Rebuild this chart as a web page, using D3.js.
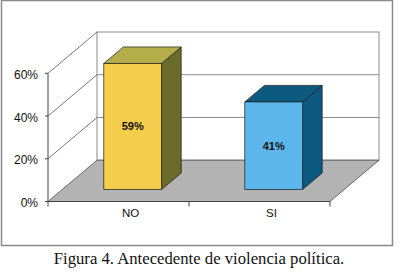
<!DOCTYPE html>
<html>
<head>
<meta charset="utf-8">
<script src="https://cdn.jsdelivr.net/npm/d3@7"></script>
<style>
  html, body { margin: 0; padding: 0; background: #fff; }
  svg { display: block; }
</style>
</head>
<body>
<svg id="chart" width="400" height="274"></svg>
<script>
// ---- data ----
const categories = ["NO", "SI"];
const values = [0.59, 0.41];
const valueLabels = ["59%", "41%"];
const tickValues = [0, 0.2, 0.4, 0.6];
const tickLabels = ["0%", "20%", "40%", "60%"];
const caption = "Figura 4. Antecedente de violencia política.";

const frontColors = ["#f4cd4c", "#5cb6ec"];
const topColors = ["#b4ae4a", "#0d5a80"];
const sideColors = ["#6b6b2b", "#0c5a82"];

// ---- geometry ----
const svg = d3.select("#chart");
const DX = 49, DY = 41.3;          // depth projection
const x0 = 48, x1 = 330;            // front floor edge
const y = d3.scaleLinear().domain([0, 0.6]).range([201.5, 73.3]);
const x = d3.scaleBand().domain(categories).range([x0, x1])
  .paddingInner(0.59).paddingOuter(0.295);
const xCat = d3.scaleBand().domain(categories).range([x0, x1]);
const d0 = 0.29, d1 = 0.69;          // bar depth (front/back)
const P = (px, py, d) => [px + d * DX, py - d * DY];
const line = d3.line();

// outer frame
svg.append("rect").attr("x", 1.5).attr("y", 0.5).attr("width", 391).attr("height", 245)
  .attr("fill", "#fff").attr("stroke", "#8a8a8a").attr("stroke-width", 1.5);

// back wall
const wallTop = y(0.6) - DY, wallBot = y(0) - DY;
svg.append("rect").attr("x", x0 + DX).attr("y", wallTop)
  .attr("width", x1 - x0).attr("height", wallBot - wallTop)
  .attr("fill", "#fff").attr("stroke", "#8c8c8c").attr("stroke-width", 1);

// back wall gridlines
svg.append("g").selectAll("line").data(tickValues.filter(v => v > 0 && v < 0.6)).join("line")
  .attr("x1", x0 + DX).attr("x2", x1 + DX)
  .attr("y1", v => y(v) - DY).attr("y2", v => y(v) - DY)
  .attr("stroke", "#8c8c8c").attr("stroke-width", 1);

// left side diagonals
svg.append("g").selectAll("path").data(tickValues.filter(v => v > 0)).join("path")
  .attr("d", v => line([[x0, y(v)], P(x0, y(v), 1)]))
  .attr("stroke", "#555").attr("stroke-width", 0.8).attr("fill", "none");

// floor
svg.append("path")
  .attr("d", line([[x0, y(0)], P(x0, y(0), 1), P(x1, y(0), 1), [x1, y(0)]]) + "Z")
  .attr("fill", "#b3b3b3").attr("stroke", "#4d4d4d").attr("stroke-width", 0.8);

// front value axis
svg.append("line").attr("x1", x0).attr("x2", x0).attr("y1", y(0)).attr("y2", y(0.6))
  .attr("stroke", "#444").attr("stroke-width", 1);
svg.append("g").selectAll("line").data(tickValues).join("line")
  .attr("x1", x0 - 3).attr("x2", x0).attr("y1", v => y(v)).attr("y2", v => y(v))
  .attr("stroke", "#444").attr("stroke-width", 1);
svg.append("g").selectAll("text").data(tickValues).join("text")
  .attr("x", 38).attr("y", v => y(v) + 5.5)
  .attr("text-anchor", "end")
  .attr("font-family", "Liberation Sans, Arial, sans-serif").attr("font-size", 12)
  .attr("fill", "#111")
  .text((v, i) => tickLabels[i]);

// category ticks on front edge
svg.append("line").attr("x1", x0).attr("x2", x1).attr("y1", y(0)).attr("y2", y(0))
  .attr("stroke", "#444").attr("stroke-width", 1);
const catTicks = [x0].concat(categories.map(c => xCat(c) + xCat.bandwidth()));
svg.append("g").selectAll("line").data(catTicks).join("line")
  .attr("x1", d => d).attr("x2", d => d).attr("y1", y(0)).attr("y2", y(0) + 5)
  .attr("stroke", "#444").attr("stroke-width", 1);
svg.append("g").selectAll("text").data(categories).join("text")
  .attr("x", c => xCat(c) + xCat.bandwidth() / 2 + 12).attr("y", 216.5)
  .attr("text-anchor", "middle")
  .attr("font-family", "Liberation Sans, Arial, sans-serif").attr("font-size", 11.5)
  .attr("fill", "#111")
  .text(c => c);

// bars
const bars = svg.append("g");
categories.forEach((c, i) => {
  const bl = x(c), br = x(c) + x.bandwidth();
  const yt = y(values[i]), yb = y(0);
  const g = bars.append("g");
  // side
  g.append("path")
    .attr("d", line([P(br, yb, d0), P(br, yb, d1), P(br, yt, d1), P(br, yt, d0)]) + "Z")
    .attr("fill", sideColors[i]).attr("stroke", "#1a1a1a").attr("stroke-width", 0.7);
  // top
  g.append("path")
    .attr("d", line([P(bl, yt, d0), P(bl, yt, d1), P(br, yt, d1), P(br, yt, d0)]) + "Z")
    .attr("fill", topColors[i]).attr("stroke", "#1a1a1a").attr("stroke-width", 0.7);
  // front
  const [fx, fy] = P(bl, yt, d0);
  const [fx2, fy2] = P(br, yb, d0);
  g.append("rect").attr("x", fx).attr("y", fy).attr("width", fx2 - fx).attr("height", fy2 - fy)
    .attr("fill", frontColors[i]).attr("stroke", "#1a1a1a").attr("stroke-width", 0.7);
  g.append("text")
    .attr("x", (fx + fx2) / 2).attr("y", (fy + fy2) / 2 + 4)
    .attr("text-anchor", "middle")
    .attr("font-family", "Liberation Sans, Arial, sans-serif").attr("font-size", 11)
    .attr("font-weight", "bold").attr("fill", "#111")
    .text(valueLabels[i]);
});

// caption
svg.append("text").attr("x", 199).attr("y", 264)
  .attr("text-anchor", "middle")
  .attr("font-family", "Liberation Serif, Times New Roman, serif").attr("font-size", 16.7)
  .attr("fill", "#111")
  .text(caption);
</script>
</body>
</html>
